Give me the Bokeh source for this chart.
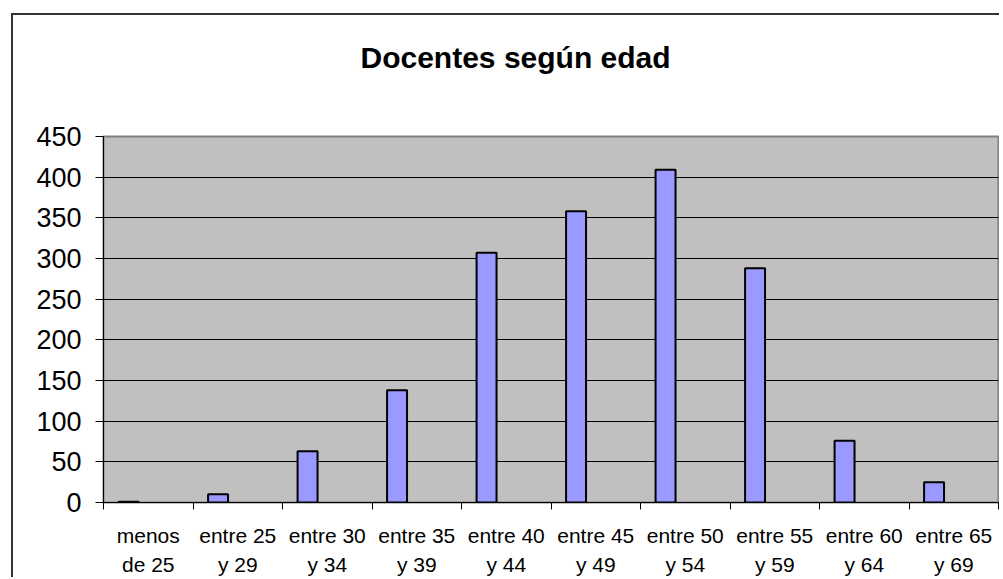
from bokeh.plotting import figure
from bokeh.models import Range1d, FixedTicker, Title
from bokeh.embed import file_html
from bokeh.resources import INLINE

categories = ["menos\nde 25", "entre 25\ny 29", "entre 30\ny 34", "entre 35\ny 39",
              "entre 40\ny 44", "entre 45\ny 49", "entre 50\ny 54", "entre 55\ny 59",
              "entre 60\ny 64", "entre 65\ny 69"]
docentes = [1, 10, 63, 138, 307, 358, 409, 288, 76, 25]
y_ticks = [0, 50, 100, 150, 200, 250, 300, 350, 400, 450]
title_text = "Docentes según edad"

FONT = "Liberation Sans"
n = len(categories)
centers = [i + 0.5 for i in range(n)]
bar_x = [c - 0.22 for c in centers]

W, H = 988, 564
p = figure(width=W, height=H, output_backend="svg", toolbar_location=None,
           x_range=Range1d(0, n), y_range=Range1d(0, 450),
           min_border_left=90, min_border_right=3, min_border_top=121,
           min_border_bottom=76)
p.title_location = None
p.margin = (13, 0, 0, 11)
p.styles = {"border-top": "2px solid #333333", "border-left": "2px solid #333333"}

# spacer between plot area and title (closest to the frame)
p.add_layout(Title(text=" ", text_font=FONT, text_font_size="10px",
                   standoff=50), "above")
# chart title
p.add_layout(Title(text=title_text, align="left", text_font=FONT,
                   text_font_size="30px", text_font_style="bold",
                   offset=257, standoff=0, text_color="black"), "above")

p.background_fill_color = "#C0C0C0"
p.border_fill_color = "white"
p.outline_line_color = "#808080"
p.outline_line_width = 2

p.vbar(x=bar_x, top=docentes, width=0.223, bottom=0,
       fill_color="#9999FF", line_color="black", line_width=2)

# x axis
p.xaxis.ticker = FixedTicker(ticks=centers, minor_ticks=list(range(n + 1)))
p.xaxis.major_label_overrides = {c: lab for c, lab in zip(centers, categories)}
p.xaxis.major_tick_out = 0
p.xaxis.major_tick_in = 0
p.xaxis.minor_tick_out = 7
p.xaxis.minor_tick_in = 0
p.xaxis.minor_tick_line_color = "black"
p.xaxis.axis_line_color = "black"
p.xaxis.major_label_text_font = FONT
p.xaxis.major_label_text_font_size = "21px"
p.xaxis.major_label_text_line_height = 1.3
p.xaxis.major_label_standoff = 14
p.xaxis.major_label_text_color = "black"

# y axis
p.yaxis.ticker = FixedTicker(ticks=y_ticks)
p.yaxis.major_tick_out = 8
p.yaxis.major_tick_in = 0
p.yaxis.minor_tick_out = 0
p.yaxis.minor_tick_in = 0
p.yaxis.axis_line_color = "black"
p.yaxis.major_label_text_font = FONT
p.yaxis.major_label_text_font_size = "27px"
p.yaxis.major_label_standoff = 14
p.yaxis.major_label_text_color = "black"

p.xgrid.grid_line_color = None
p.ygrid.grid_line_color = "black"
p.ygrid.grid_line_width = 1

open("out.html", "w").write(file_html(p, INLINE))
